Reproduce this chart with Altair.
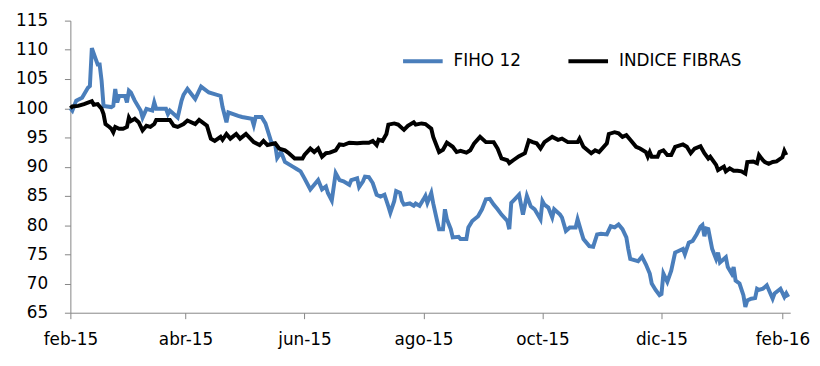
import altair as alt
import pandas as pd

# ---------------- data ----------------
series_names = ["FIHO 12", "INDICE FIBRAS"]
series_colors = ["#4A7EBB", "#000000"]

blue_dates = [
    "2015-02-01", "2015-02-02", "2015-02-04", "2015-02-07", "2015-02-10", "2015-02-11", "2015-02-12", "2015-02-14", "2015-02-15", "2015-02-16", "2015-02-17", "2015-02-18", "2015-02-22", "2015-02-23", "2015-02-24", "2015-02-25", "2015-02-26",
    "2015-03-01", "2015-03-02", "2015-03-03", "2015-03-04", "2015-03-06", "2015-03-09", "2015-03-10", "2015-03-12", "2015-03-15", "2015-03-16", "2015-03-17", "2015-03-22", "2015-03-23", "2015-03-24", "2015-03-28", "2015-03-30", "2015-03-31",
    "2015-04-02", "2015-04-06", "2015-04-09", "2015-04-13", "2015-04-19", "2015-04-20", "2015-04-22", "2015-04-23", "2015-04-28", "2015-04-30",
    "2015-05-05", "2015-05-06", "2015-05-07", "2015-05-10", "2015-05-12", "2015-05-15", "2015-05-17", "2015-05-18", "2015-05-20", "2015-05-22", "2015-05-26", "2015-05-28", "2015-05-30",
    "2015-06-01", "2015-06-04", "2015-06-06", "2015-06-08", "2015-06-10", "2015-06-12", "2015-06-13", "2015-06-15", "2015-06-17", "2015-06-19", "2015-06-21", "2015-06-24", "2015-06-25", "2015-06-28", "2015-06-29",
    "2015-07-01", "2015-07-02", "2015-07-04", "2015-07-06", "2015-07-08", "2015-07-10", "2015-07-12", "2015-07-14", "2015-07-15", "2015-07-17", "2015-07-18", "2015-07-20", "2015-07-21", "2015-07-22", "2015-07-25", "2015-07-27", "2015-07-28", "2015-07-30",
    "2015-08-01", "2015-08-02", "2015-08-03", "2015-08-05", "2015-08-06", "2015-08-08", "2015-08-09", "2015-08-11", "2015-08-12", "2015-08-13", "2015-08-15", "2015-08-16", "2015-08-19", "2015-08-20", "2015-08-23", "2015-08-24", "2015-08-26", "2015-08-29", "2015-08-31",
    "2015-09-02", "2015-09-04", "2015-09-06", "2015-09-08", "2015-09-10", "2015-09-13", "2015-09-14", "2015-09-15", "2015-09-17", "2015-09-19", "2015-09-21", "2015-09-23", "2015-09-25", "2015-09-27", "2015-09-30",
    "2015-10-01", "2015-10-02", "2015-10-04", "2015-10-06", "2015-10-07", "2015-10-10", "2015-10-11", "2015-10-13", "2015-10-15", "2015-10-18", "2015-10-19", "2015-10-21", "2015-10-22", "2015-10-25", "2015-10-27", "2015-10-29", "2015-10-31",
    "2015-11-03", "2015-11-05", "2015-11-07", "2015-11-09", "2015-11-11", "2015-11-13", "2015-11-14", "2015-11-15", "2015-11-18", "2015-11-19", "2015-11-21", "2015-11-23", "2015-11-25", "2015-11-26", "2015-11-28", "2015-11-30",
    "2015-12-01", "2015-12-02", "2015-12-04", "2015-12-06", "2015-12-08", "2015-12-10", "2015-12-12", "2015-12-13", "2015-12-15", "2015-12-17", "2015-12-19", "2015-12-21", "2015-12-22", "2015-12-23", "2015-12-24", "2015-12-25", "2015-12-27", "2015-12-29", "2015-12-30", "2015-12-31",
    "2016-01-03", "2016-01-04", "2016-01-06", "2016-01-07", "2016-01-08", "2016-01-10", "2016-01-12", "2016-01-13", "2016-01-14", "2016-01-16", "2016-01-18", "2016-01-19", "2016-01-20", "2016-01-22", "2016-01-24", "2016-01-27", "2016-01-28", "2016-01-31",
    "2016-02-02", "2016-02-03", "2016-02-04",
]
blue_values = [
    100.0, 99.6, 101.3, 101.8, 103.5, 103.8, 110.3, 108.4, 107.5, 107.5, 104.7, 100.4, 100.2, 100.4, 103.3, 101.0, 102.1,
    102.1, 101.0, 103.0, 102.7, 101.3, 99.6, 98.4, 99.9, 99.6, 101.0, 99.9, 99.9, 99.0, 99.6, 98.4, 101.3, 102.3,
    103.3, 101.6, 103.7, 102.7, 102.1, 100.2, 97.6, 99.3, 98.7, 98.5,
    98.2, 97.1, 98.5, 98.5, 97.4, 94.2, 93.7, 91.5, 92.5, 90.8, 90.0, 89.6, 89.2,
    88.0, 86.1, 86.9, 87.7, 86.1, 86.6, 85.5, 84.2, 88.9, 87.7, 87.5, 86.9, 87.7, 88.0, 86.5,
    87.5, 88.3, 88.2, 87.2, 85.2, 84.9, 85.2, 83.2, 82.1, 84.1, 85.8, 85.5, 84.1, 83.5, 83.7, 83.3, 83.7, 83.3,
    84.4, 85.0, 83.8, 85.5, 83.7, 80.7, 79.3, 79.3, 82.7, 81.0, 79.3, 77.9, 78.0, 77.6, 77.6, 79.6, 80.7, 81.5, 82.7,
    84.4, 84.5, 83.5, 82.7, 81.8, 80.7, 79.3, 83.8, 84.5, 85.2, 81.8, 85.0, 83.2, 82.7, 81.0,
    84.1, 83.5, 83.0, 81.3, 82.7, 81.8, 81.3, 79.0, 79.6, 79.6, 81.0, 78.7, 77.6, 76.4, 76.3, 78.4, 78.5,
    78.4, 79.8, 79.6, 80.1, 79.3, 77.9, 75.9, 74.2, 73.9, 73.8, 74.6, 73.3, 71.7, 70.0, 68.9, 68.0,
    68.2, 71.7, 70.3, 72.2, 75.3, 75.6, 75.9, 75.0, 77.0, 77.3, 78.4, 79.7, 80.0, 78.1, 79.4, 79.3, 75.9, 74.2, 75.3, 73.6,
    74.5, 72.8, 71.7, 72.8, 70.5, 70.0, 68.0, 66.0, 67.1, 67.4, 67.5, 69.1, 68.9, 69.1, 69.7, 67.4, 68.3, 69.1,
    67.7, 68.3, 67.7,
]

black_dates = [
    "2015-02-01", "2015-02-02", "2015-02-05", "2015-02-08", "2015-02-12", "2015-02-13", "2015-02-15", "2015-02-17", "2015-02-18", "2015-02-19", "2015-02-21", "2015-02-22", "2015-02-23", "2015-02-24", "2015-02-26", "2015-02-28",
    "2015-03-02", "2015-03-03", "2015-03-04", "2015-03-06", "2015-03-08", "2015-03-10", "2015-03-12", "2015-03-14", "2015-03-16", "2015-03-17", "2015-03-24", "2015-03-26", "2015-03-28", "2015-03-31",
    "2015-04-02", "2015-04-06", "2015-04-08", "2015-04-12", "2015-04-14", "2015-04-16", "2015-04-19", "2015-04-20", "2015-04-22", "2015-04-24", "2015-04-27", "2015-04-29",
    "2015-05-02", "2015-05-06", "2015-05-09", "2015-05-11", "2015-05-13", "2015-05-17", "2015-05-19", "2015-05-22", "2015-05-24", "2015-05-27", "2015-05-29", "2015-05-31",
    "2015-06-01", "2015-06-04", "2015-06-06", "2015-06-08", "2015-06-10", "2015-06-12", "2015-06-14", "2015-06-17", "2015-06-19", "2015-06-21", "2015-06-24", "2015-06-28",
    "2015-07-01", "2015-07-04", "2015-07-06", "2015-07-08", "2015-07-09", "2015-07-11", "2015-07-13", "2015-07-14", "2015-07-17", "2015-07-19", "2015-07-22", "2015-07-24", "2015-07-27", "2015-07-28", "2015-07-31",
    "2015-08-02", "2015-08-05", "2015-08-06", "2015-08-09", "2015-08-11", "2015-08-13", "2015-08-16", "2015-08-18", "2015-08-20", "2015-08-23", "2015-08-25", "2015-08-27", "2015-08-30",
    "2015-09-02", "2015-09-06", "2015-09-08", "2015-09-10", "2015-09-13", "2015-09-14", "2015-09-16", "2015-09-19", "2015-09-22", "2015-09-24", "2015-09-26", "2015-09-28", "2015-09-30",
    "2015-10-02", "2015-10-06", "2015-10-09", "2015-10-11", "2015-10-14", "2015-10-19", "2015-10-20", "2015-10-22", "2015-10-26", "2015-10-28", "2015-10-30",
    "2015-11-03", "2015-11-04", "2015-11-07", "2015-11-09", "2015-11-11", "2015-11-13", "2015-11-15", "2015-11-18", "2015-11-20", "2015-11-23", "2015-11-24", "2015-11-25", "2015-11-26", "2015-11-29", "2015-11-30",
    "2015-12-02", "2015-12-04", "2015-12-06", "2015-12-08", "2015-12-12", "2015-12-14", "2015-12-16", "2015-12-18", "2015-12-21", "2015-12-23", "2015-12-25", "2015-12-26", "2015-12-29", "2015-12-30",
    "2016-01-02", "2016-01-03", "2016-01-05", "2016-01-07", "2016-01-09", "2016-01-11", "2016-01-13", "2016-01-14", "2016-01-17", "2016-01-19", "2016-01-20", "2016-01-22", "2016-01-23", "2016-01-25", "2016-01-27", "2016-01-29",
    "2016-02-01", "2016-02-02", "2016-02-03",
]
black_values = [
    100.0, 100.3, 100.4, 100.7, 101.2, 100.6, 100.7, 99.9, 99.0, 97.3, 96.8, 96.5, 95.9, 96.8, 96.5, 96.5,
    96.8, 98.4, 97.8, 98.2, 97.6, 96.2, 97.0, 96.8, 97.3, 98.0, 98.0, 97.0, 96.8, 97.3,
    97.9, 97.3, 98.0, 97.0, 94.8, 94.4, 95.1, 94.6, 95.6, 94.8, 95.6, 94.8,
    95.6, 94.2, 93.7, 94.4, 93.7, 94.0, 93.1, 92.8, 92.3, 91.4, 91.4, 91.4,
    92.0, 93.1, 92.5, 93.1, 91.7, 92.3, 92.4, 92.8, 93.8, 93.7, 94.1, 94.0,
    94.1, 94.1, 94.4, 93.7, 94.6, 94.4, 95.6, 97.2, 97.4, 97.2, 96.3, 97.0, 97.6, 97.2, 97.4,
    97.3, 96.5, 95.1, 92.5, 92.9, 94.1, 93.4, 92.5, 92.7, 92.4, 92.8, 94.0, 95.1,
    94.2, 94.2, 93.1, 91.4, 91.1, 90.6, 91.1, 91.8, 92.3, 94.5, 94.2, 94.0, 93.1,
    94.2, 95.1, 94.6, 94.8, 94.2, 94.2, 94.8, 93.4, 92.3, 92.8, 92.5,
    94.0, 95.6, 95.9, 95.7, 95.1, 95.4, 94.6, 93.4, 93.1, 92.5, 91.7, 92.5, 91.7, 91.7, 92.5,
    92.8, 92.0, 92.0, 93.4, 93.8, 93.4, 92.3, 93.1, 93.5, 92.3, 91.4, 91.7, 90.3, 89.4,
    90.0, 89.2, 89.7, 89.3, 89.3, 89.2, 88.8, 90.8, 90.9, 90.6, 92.0, 91.1, 90.8, 90.5, 90.8, 90.9,
    91.6, 92.7, 92.0,
]

y_ticks = [65, 70, 75, 80, 85, 90, 95, 100, 105, 110, 115]
x_tick_months = [(2015, 2), (2015, 4), (2015, 6), (2015, 8), (2015, 10), (2015, 12), (2016, 2)]
month_abbr = ["ene", "feb", "mar", "abr", "may", "jun", "jul", "ago", "sep", "oct", "nov", "dic"]

# ---------------- build chart ----------------
blue_df = pd.DataFrame({"fecha": pd.to_datetime(blue_dates), "valor": blue_values, "serie": series_names[0]})
black_df = pd.DataFrame({"fecha": pd.to_datetime(black_dates), "valor": black_values, "serie": series_names[1]})

FONT = "DejaVu Sans"
label_expr = "[" + ",".join("'%s'" % m for m in month_abbr) + "][month(datum.value)] + '-' + timeFormat(datum.value, '%y')"

x_enc = alt.X(
    "fecha:T",
    scale=alt.Scale(domain=[alt.DateTime(year=2015, month=2, date=1), alt.DateTime(year=2016, month=2, date=5)], nice=False),
    axis=alt.Axis(
        title=None,
        values=[alt.DateTime(year=y, month=m, date=1) for y, m in x_tick_months],
        labelExpr=label_expr,
        grid=False,
        tickSize=6,
        labelPadding=13,
        labelFontSize=17,
        labelFlush=False,
        labelOverlap=False,
    ),
)
y_enc = alt.Y(
    "valor:Q",
    scale=alt.Scale(domain=[65, 115], nice=False, zero=False),
    axis=alt.Axis(title=None, values=y_ticks, grid=False, tickSize=6, labelPadding=17, labelFontSize=17),
)
color_enc = alt.Color(
    "serie:N",
    scale=alt.Scale(domain=series_names, range=series_colors),
    legend=alt.Legend(
        title=None,
        orient="none",
        legendX=334,
        legendY=19,
        direction="horizontal",
        symbolType="stroke",
        symbolSize=1600,
        symbolStrokeWidth=4,
        labelFontSize=17,
        labelFont=FONT,
        labelColor="#000000",
        labelOffset=9,
        columnPadding=40,
        padding=0,
    ),
)

line_blue = alt.Chart(blue_df).mark_line(strokeWidth=4).encode(x=x_enc, y=y_enc, color=color_enc)
line_black = alt.Chart(black_df).mark_line(strokeWidth=4).encode(x=x_enc, y=y_enc, color=color_enc)

chart = (
    alt.layer(line_blue, line_black)
    .properties(
        width=727,
        height=295,
        autosize=alt.AutoSizeParams(type="none"),
        padding={"left": 63, "top": 11, "right": 22, "bottom": 44},
        background="#ffffff",
    )
    .configure_view(stroke=None)
    .configure_axis(
        domainColor="#868686",
        tickColor="#868686",
        labelColor="#000000",
        labelFont=FONT,
        domainWidth=1,
        tickWidth=1,
    )
)

chart.save("out.html", embed_options={"renderer": "svg", "actions": False})
